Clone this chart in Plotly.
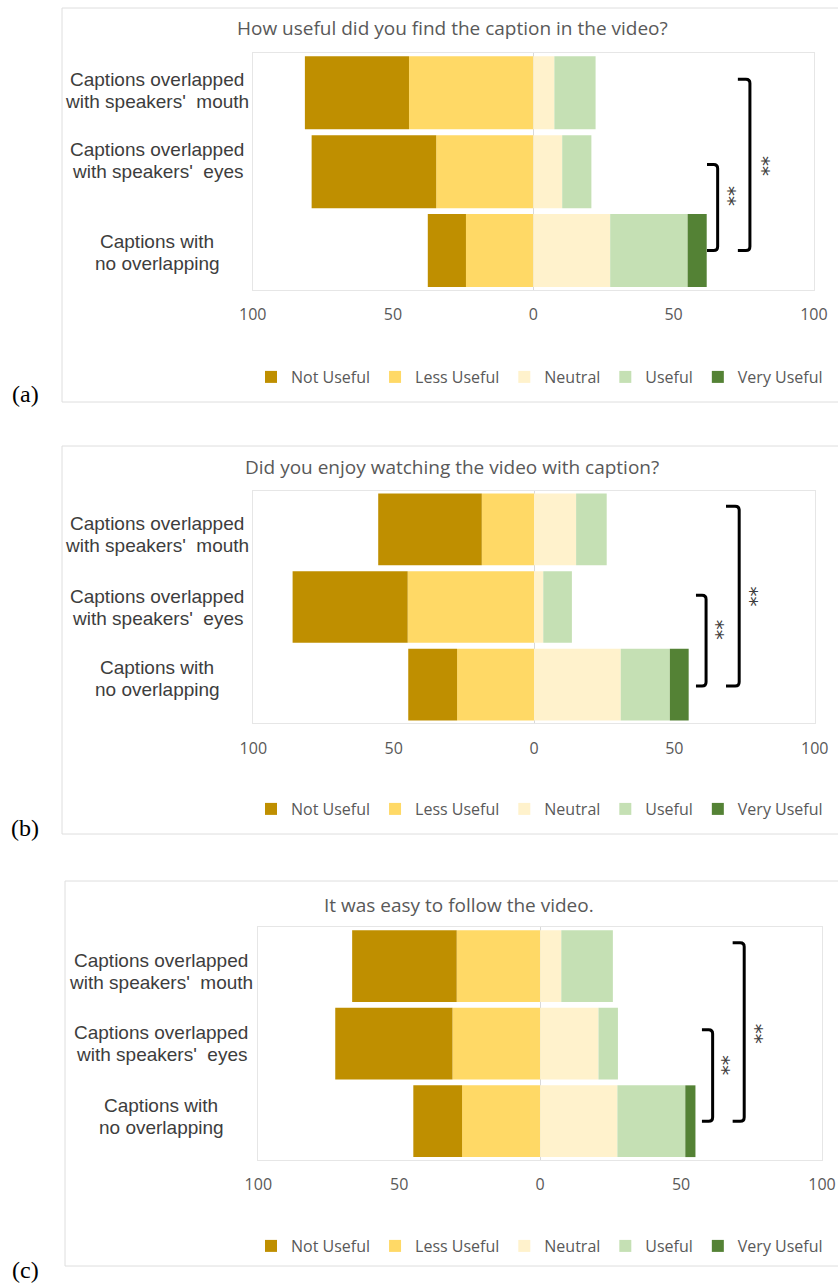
import plotly.graph_objects as go

# ---------------------------------------------------------------- data
RESPONSES = ["Not Useful", "Less Useful", "Neutral", "Useful", "Very Useful"]
COLORS = ["#BF8F00", "#FFD966", "#FFF2CC", "#C5E0B4", "#548235"]

conditions = ["mouth", "eyes", "none"]
condition_lines = [
    ["Captions overlapped", "with speakers'&nbsp; mouth"],
    ["Captions overlapped", "with speakers'&nbsp; eyes"],
    ["Captions with", "no overlapping"],
]

questions = [
    "How useful did you find the caption in the video?",
    "Did you enjoy watching the video with caption?",
    "It was easy to follow the video.",
]
panel_tags = ["(a)", "(b)", "(c)"]

# share of participants (%) per condition: mouth, eyes, none
useful_not = [37.1, 44.4, 13.6]
useful_less = [44.3, 34.6, 24.0]
useful_neutral = [7.5, 10.3, 27.4]
useful_useful = [14.7, 10.4, 27.6]
useful_very = [0.0, 0.0, 6.8]

enjoy_not = [36.9, 41.0, 17.4]
enjoy_less = [18.6, 45.0, 27.4]
enjoy_neutral = [15.0, 3.3, 30.9]
enjoy_useful = [10.9, 10.2, 17.5]
enjoy_very = [0.0, 0.0, 6.7]

easy_not = [37.1, 41.6, 17.3]
easy_less = [29.6, 31.1, 27.7]
easy_neutral = [7.5, 20.7, 27.4]
easy_useful = [18.3, 6.9, 24.1]
easy_very = [0.0, 0.0, 3.6]

x_tick_vals = [-100, -50, 0, 50, 100]
x_tick_text = ["100", "50", "0", "50", "100"]

# pairwise comparisons marked as significant
significance = [("eyes", "none", "**"), ("mouth", "none", "**")]

panel_values = [
    [useful_not, useful_less, useful_neutral, useful_useful, useful_very],
    [enjoy_not, enjoy_less, enjoy_neutral, enjoy_useful, enjoy_very],
    [easy_not, easy_less, easy_neutral, easy_useful, easy_very],
]

# ---------------------------------------------------------------- layout (pixels)
W, H = 838, 1284

panels = [
    dict(plot=(252.7, 813.9, 53.3, 290.0), box=(62, 8, 402), title=(452, 28),
         legend_y=377, tag_y=394, label_x=157, label_shift=[2, 11, -2],
         brackets=[dict(v=65.7, hook=61.9, over_top=0.09, over_bot=0.0, star=(69.8, 1.31)),
                   dict(v=77.2, hook=72.9, over_top=0.17, over_bot=0.0, star=(81.9, 0.93))]),
    dict(plot=(253.3, 814.7, 490.7, 723.3), box=(62, 446, 834), title=(452, 467),
         legend_y=809, tag_y=828, label_x=157, label_shift=[-5, 0, 6],
         brackets=[dict(v=61.3, hook=57.7, over_top=0.15, over_bot=0.02, star=(65.1, 1.29)),
                   dict(v=73.1, hook=68.4, over_top=0.30, over_bot=0.02, star=(77.3, 0.865))]),
    dict(plot=(258.3, 822.0, 927.3, 1160.0), box=(65, 881, 1266), title=(459, 905),
         legend_y=1246, tag_y=1270, label_x=161, label_shift=[-5, 0, 5],
         brackets=[dict(v=61.2, hook=57.4, over_top=0.18, over_bot=0.0, star=(64.9, 1.28)),
                   dict(v=72.4, hook=68.3, over_top=0.30, over_bot=0.0, star=(76.9, 0.87))]),
]

GREY = "#595959"
LABEL = "#3d3d3d"
SANS = "Open Sans, sans-serif"


def fx(px):
    return px / W


def fy(py):
    return 1 - py / H


def bracket_path(x_hook, x_vert, y_top, y_bot, rx, ry):
    return (f"M{x_hook},{y_top} L{x_vert - rx},{y_top} Q{x_vert},{y_top} {x_vert},{y_top + ry} "
            f"L{x_vert},{y_bot - ry} Q{x_vert},{y_bot} {x_vert - rx},{y_bot} L{x_hook},{y_bot}")


fig = go.Figure()
layout = dict(
    width=W, height=H,
    margin=dict(l=0, r=0, t=0, b=0, autoexpand=False),
    paper_bgcolor="white", plot_bgcolor="white",
    barmode="relative", bargap=0.075,
    showlegend=True,
)
shapes, annotations = [], []
positions = list(range(len(conditions)))

# stacking order: negative side grows outwards from zero
stack_order = [1, 0, 2, 3, 4]

for p, (cfg, values) in enumerate(zip(panels, panel_values)):
    sfx = "" if p == 0 else str(p + 1)
    xa, ya = "x" + sfx, "y" + sfx
    leg = "legend" + sfx

    for k in stack_order:
        sign = -1 if k < 2 else 1
        fig.add_trace(go.Bar(
            x=[sign * v for v in values[k]], y=positions, orientation="h",
            name=RESPONSES[k], legend=leg, legendrank=k + 1,
            marker=dict(color=COLORS[k], line=dict(width=0)),
            xaxis=xa, yaxis=ya, hoverinfo="skip",
        ))

    x0, x1, y0, y1 = cfg["plot"]
    layout["xaxis" + sfx] = dict(
        domain=[fx(x0), fx(x1)], anchor=ya, range=[-100, 100],
        tickvals=x_tick_vals, ticktext=x_tick_text, ticks="",
        ticklabelstandoff=10,
        tickfont=dict(family=SANS, size=16, color=GREY),
        showgrid=False, zeroline=True, zerolinecolor="#d9d9d9", zerolinewidth=1,
        showline=True, mirror=True, linecolor="#e6e6e6", linewidth=1,
        fixedrange=True,
    )
    layout["yaxis" + sfx] = dict(
        domain=[fy(y1), fy(y0)], anchor=xa, range=[2.5, -0.5],
        showticklabels=False, ticks="", showgrid=False, zeroline=False,
        showline=True, mirror=True, linecolor="#e6e6e6", linewidth=1,
        fixedrange=True,
    )
    layout[leg] = dict(
        orientation="h", x=fx(251), xanchor="left", y=fy(cfg["legend_y"]), yanchor="middle",
        font=dict(family=SANS, size=16, color=GREY), bgcolor="rgba(0,0,0,0)",
        itemwidth=30, traceorder="normal",
    )

    # outer frame of the panel
    bx, by0, by1 = cfg["box"]
    shapes.append(dict(type="rect", xref="paper", yref="paper",
                       x0=fx(bx), x1=1.05, y0=fy(by1), y1=fy(by0),
                       line=dict(color="#dedede", width=1), layer="below"))

    # question title
    annotations.append(dict(text=questions[p], xref="paper", yref="paper",
                            x=fx(cfg["title"][0]), y=fy(cfg["title"][1]),
                            xanchor="center", yanchor="middle", showarrow=False,
                            font=dict(family=SANS, size=19, color=GREY)))

    # panel tag
    annotations.append(dict(text=panel_tags[p], xref="paper", yref="paper",
                            x=fx(25), y=fy(cfg["tag_y"]), xanchor="center", yanchor="middle",
                            showarrow=False,
                            font=dict(family="Liberation Serif, serif", size=24, color="black")))

    # condition labels, two centred lines each
    for i, lines in enumerate(condition_lines):
        for j, line in enumerate(lines):
            annotations.append(dict(
                text=line, xref="paper", yref=ya, x=fx(cfg["label_x"]), y=positions[i],
                xanchor="center", yanchor="middle", showarrow=False,
                yshift=cfg["label_shift"][i] + (11 if j == 0 else -11),
                font=dict(family="Liberation Sans, Arial, sans-serif", size=19, color=LABEL)))

    # significance brackets
    px_per_unit = (x1 - x0) / 200.0
    py_per_cat = (y1 - y0) / 3.0
    rx, ry = 4.0 / px_per_unit, 4.0 / py_per_cat
    for (a, b, mark), br in zip(significance, cfg["brackets"]):
        ia, ib = conditions.index(a), conditions.index(b)
        top, bot = min(ia, ib) - br["over_top"], max(ia, ib) + br["over_bot"]
        shapes.append(dict(type="path", xref=xa, yref=ya,
                           path=bracket_path(br["hook"], br["v"], top, bot, rx, ry),
                           line=dict(color="black", width=3)))
        annotations.append(dict(text=mark, xref=xa, yref=ya, x=br["star"][0], y=br["star"][1],
                                textangle=90, showarrow=False, xanchor="center", yanchor="middle",
                                font=dict(family="DejaVu Sans, sans-serif", size=20, color="#3d3d3d")))

layout["shapes"] = shapes
layout["annotations"] = annotations
fig.update_layout(**layout)

fig.write_html("out.html")
